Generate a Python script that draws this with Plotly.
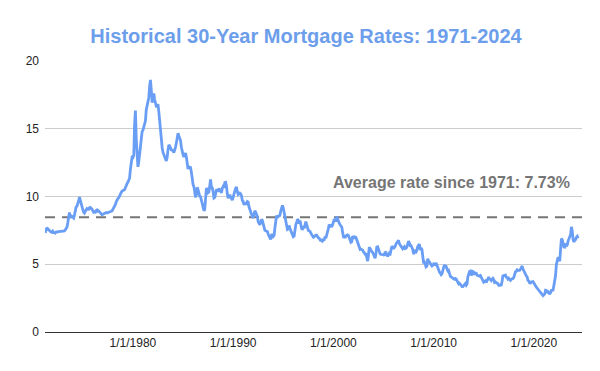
import pandas as pd
import plotly.graph_objects as go

# Monthly average 30-year fixed mortgage rates (%)
rates_1970s = [  # Apr 1971 - Dec 1979
    7.31, 7.55, 7.70, 7.62, 7.55, 7.48, 7.42, 7.38, 7.36,
    7.44, 7.33, 7.29, 7.29, 7.37, 7.37, 7.40, 7.40, 7.42, 7.42, 7.43, 7.44,
    7.44, 7.44, 7.46, 7.54, 7.65, 7.73, 8.05, 8.50, 8.82, 8.44, 8.58, 8.54,
    8.46, 8.41, 8.60, 8.96, 9.22, 9.28, 9.42, 9.67, 9.95, 9.68, 9.46, 9.17,
    9.03, 8.84, 8.78, 8.91, 9.03, 9.11, 9.06, 9.06, 9.17, 9.19, 9.11, 9.08,
    8.94, 8.84, 8.86, 8.84, 8.97, 9.01, 8.91, 8.94, 8.87, 8.78, 8.71, 8.66,
    8.69, 8.72, 8.76, 8.78, 8.81, 8.78, 8.80, 8.84, 8.82, 8.86, 8.91, 8.94,
    9.05, 9.15, 9.25, 9.40, 9.60, 9.75, 9.85, 9.90, 10.00, 10.10, 10.30, 10.40,
    10.45, 10.50, 10.50, 10.65, 10.85, 10.95, 11.05, 11.15, 11.35, 12.00, 12.80, 12.90,
]
rates_1980s = [
    12.88, 13.04, 15.28, 16.35, 14.26, 12.71, 12.19, 12.56, 13.20, 13.79, 14.21, 14.79,
    14.90, 15.13, 15.40, 15.58, 16.40, 16.70, 16.83, 17.29, 18.16, 18.60, 17.83, 16.92,
    17.40, 17.60, 17.16, 16.89, 16.68, 16.70, 16.82, 16.27, 15.43, 14.61, 13.83, 13.62,
    13.25, 13.04, 12.80, 12.78, 12.63, 12.87, 13.42, 13.81, 13.73, 13.54, 13.44, 13.42,
    13.37, 13.23, 13.39, 13.65, 13.94, 14.42, 14.67, 14.47, 14.35, 14.13, 13.64, 13.18,
    13.08, 12.92, 13.17, 13.20, 12.91, 12.22, 12.03, 12.19, 12.19, 12.14, 11.78, 11.26,
    10.88, 10.71, 10.08, 9.94, 10.14, 10.68, 10.51, 10.20, 10.01, 9.98, 9.70, 9.32,
    9.20, 8.95, 9.04, 9.83, 10.60, 10.54, 10.28, 10.33, 10.89, 11.26, 10.65, 10.64,
    10.38, 9.89, 9.93, 10.20, 10.46, 10.46, 10.43, 10.60, 10.48, 10.30, 10.27, 10.61,
    10.73, 10.65, 11.03, 11.05, 10.77, 10.20, 9.88, 9.99, 10.13, 9.95, 9.77, 9.74,
]
rates_1990s = [
    9.95, 10.30, 10.40, 10.60, 10.70, 10.35, 10.15, 10.20, 10.25, 10.20, 10.05, 9.70,
    9.64, 9.37, 9.50, 9.49, 9.47, 9.62, 9.58, 9.24, 9.01, 8.86, 8.71, 8.50,
    8.43, 8.76, 8.94, 8.85, 8.67, 8.51, 8.13, 7.98, 7.92, 8.09, 8.31, 8.22,
    7.99, 7.68, 7.50, 7.47, 7.47, 7.42, 7.21, 7.11, 6.91, 6.83, 7.16, 7.17,
    7.06, 7.15, 7.68, 8.32, 8.60, 8.40, 8.61, 8.51, 8.64, 8.93, 9.30, 9.35,
    9.15, 8.83, 8.46, 8.32, 7.96, 7.57, 7.61, 7.86, 7.64, 7.48, 7.38, 7.20,
    7.03, 7.08, 7.62, 7.93, 8.07, 8.32, 8.25, 8.00, 8.23, 7.92, 7.62, 7.60,
    7.82, 7.65, 7.90, 8.14, 7.94, 7.69, 7.50, 7.48, 7.43, 7.29, 7.21, 7.10,
    6.99, 7.04, 7.13, 7.14, 7.14, 7.00, 6.95, 6.92, 6.72, 6.71, 6.87, 6.72,
    6.79, 6.81, 7.04, 6.92, 7.15, 7.55, 7.63, 7.94, 7.82, 7.85, 7.74, 7.91,
]
rates_2000s = [
    8.21, 8.33, 8.24, 8.15, 8.52, 8.29, 8.15, 8.03, 7.91, 7.80, 7.75, 7.38,
    7.03, 7.05, 6.95, 7.08, 7.15, 7.16, 7.13, 6.95, 6.82, 6.62, 6.66, 7.07,
    7.00, 6.89, 7.01, 6.99, 6.81, 6.65, 6.49, 6.29, 6.09, 6.11, 6.07, 6.05,
    5.92, 5.84, 5.75, 5.81, 5.48, 5.23, 5.63, 6.26, 6.15, 5.95, 5.93, 5.88,
    5.71, 5.64, 5.45, 5.83, 6.27, 6.29, 6.06, 5.87, 5.75, 5.72, 5.73, 5.75,
    5.71, 5.63, 5.93, 5.86, 5.72, 5.58, 5.70, 5.82, 5.77, 6.07, 6.33, 6.27,
    6.15, 6.25, 6.32, 6.51, 6.60, 6.68, 6.76, 6.52, 6.40, 6.36, 6.24, 6.14,
    6.22, 6.29, 6.16, 6.18, 6.26, 6.66, 6.70, 6.57, 6.38, 6.38, 6.21, 6.10,
    5.76, 5.92, 5.97, 5.92, 6.04, 6.32, 6.43, 6.48, 6.04, 6.20, 6.09, 5.33,
    5.06, 5.13, 5.00, 4.81, 4.86, 5.42, 5.22, 5.19, 5.06, 4.95, 4.88, 4.93,
]
rates_2010s = [
    5.03, 4.99, 4.97, 5.10, 4.89, 4.74, 4.56, 4.43, 4.35, 4.23, 4.30, 4.71,
    4.76, 4.95, 4.84, 4.84, 4.64, 4.51, 4.55, 4.27, 4.11, 4.07, 3.99, 3.96,
    3.92, 3.89, 3.95, 3.91, 3.80, 3.68, 3.55, 3.60, 3.50, 3.38, 3.35, 3.35,
    3.41, 3.53, 3.57, 3.45, 3.54, 4.07, 4.37, 4.46, 4.49, 4.19, 4.26, 4.46,
    4.43, 4.30, 4.34, 4.34, 4.19, 4.16, 4.13, 4.12, 4.16, 4.04, 4.00, 3.86,
    3.67, 3.71, 3.77, 3.67, 3.84, 3.98, 4.05, 3.91, 3.89, 3.80, 3.94, 3.96,
    3.87, 3.66, 3.69, 3.61, 3.60, 3.57, 3.44, 3.44, 3.46, 3.47, 3.77, 4.20,
    4.15, 4.17, 4.20, 4.05, 4.01, 3.90, 3.97, 3.88, 3.81, 3.90, 3.92, 3.95,
    4.03, 4.33, 4.44, 4.47, 4.59, 4.57, 4.53, 4.55, 4.63, 4.83, 4.87, 4.64,
    4.46, 4.37, 4.27, 4.14, 4.07, 3.80, 3.77, 3.62, 3.61, 3.69, 3.70, 3.72,
]
rates_2020s = [  # Jan 2020 - Jun 2024
    3.62, 3.47, 3.45, 3.31, 3.23, 3.16, 3.02, 2.94, 2.89, 2.83, 2.77, 2.68,
    2.74, 2.81, 3.08, 3.06, 2.96, 2.98, 2.87, 2.84, 2.90, 3.07, 3.07, 3.10,
    3.45, 3.76, 4.17, 4.98, 5.23, 5.52, 5.41, 5.22, 6.11, 6.90, 6.81, 6.36,
    6.27, 6.26, 6.54, 6.34, 6.43, 6.71, 6.84, 7.07, 7.20, 7.76, 7.44, 6.82,
    6.64, 6.78, 6.82, 6.99, 7.06, 6.92,
]
start_month = "1971-04-01"
avg_line_value = 8.47
avg_label = "Average rate since 1971: 7.73%"
tick_years = [1980, 1990, 2000, 2010, 2020]
tick_labels = [f"1/1/{y}" for y in tick_years]

rates = rates_1970s + rates_1980s + rates_1990s + rates_2000s + rates_2010s + rates_2020s
dates = pd.date_range(start_month, periods=len(rates), freq="MS")

x_start = "1971-03-25"
x_end = "2024-10-20"

fig = go.Figure()
fig.add_trace(go.Scatter(
    x=[x_start, x_end], y=[avg_line_value, avg_line_value], mode="lines",
    line=dict(color="#757575", width=2, dash="10px,7px"),
    hoverinfo="skip", showlegend=False,
))
fig.add_trace(go.Scatter(
    x=dates, y=rates, mode="lines",
    line=dict(color="#6a9ef5", width=2.8),
    showlegend=False,
))

fig.update_layout(
    width=600, height=371,
    margin=dict(l=45, r=18, t=61, b=39),
    paper_bgcolor="white", plot_bgcolor="white",
    font=dict(family="Liberation Sans, Arial, sans-serif", size=12, color="#222222"),
    title=dict(
        text="<b>Historical 30-Year Mortgage Rates: 1971-2024</b>",
        font=dict(family="Liberation Sans, Arial, sans-serif", size=20, color="#6d9eeb"),
        x=0.51, xref="container", xanchor="center",
        y=1 - 36 / 371, yref="container", yanchor="middle",
    ),
    xaxis=dict(
        type="date", range=[x_start, x_end],
        tickvals=[f"{y}-01-01" for y in tick_years], ticktext=tick_labels,
        showgrid=False, zeroline=False,
        showline=True, linecolor="#333333", linewidth=1,
        ticks="", tickfont=dict(size=12, color="#222222"),
    ),
    yaxis=dict(
        range=[0, 20], tickvals=[0, 5, 10, 15, 20],
        showgrid=True, gridcolor="#cccccc", gridwidth=1,
        zeroline=False, showline=False, ticks="",
        ticklabelstandoff=5,
        tickfont=dict(size=12, color="#222222"),
    ),
    annotations=[dict(
        text=f"<b>{avg_label}</b>",
        xref="paper", yref="y", x=(572 - 45) / (582 - 45), y=11.05,
        xanchor="right", yanchor="middle", showarrow=False,
        font=dict(family="Liberation Sans, Arial, sans-serif", size=16, color="#757575"),
    )],
)

fig.write_html(
    "out.html",
    config={"displayModeBar": False},
    post_script="document.body.style.margin='0';document.body.style.overflow='hidden';",
)
